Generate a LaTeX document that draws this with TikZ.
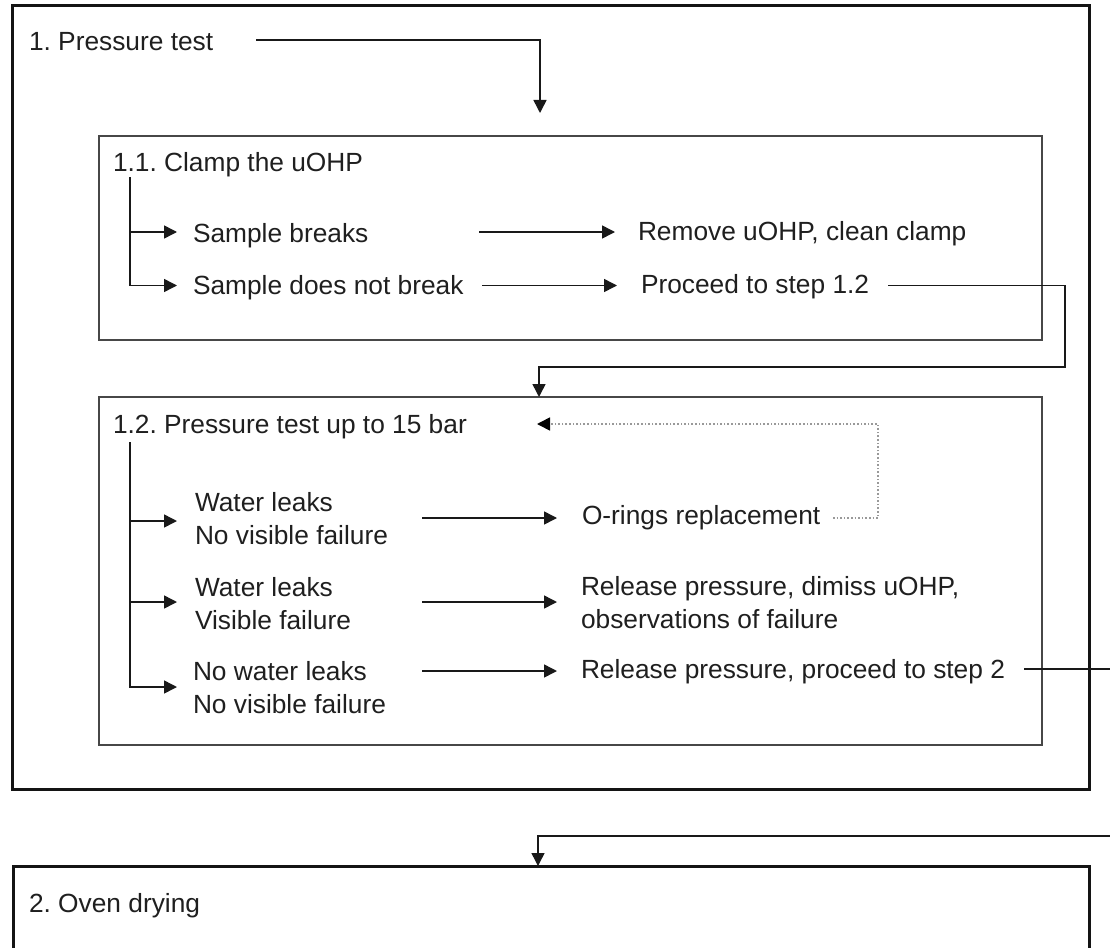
\documentclass[tikz,border=0pt]{standalone}
\usepackage{fontspec}
\setmainfont{Liberation Sans}
\frenchspacing
\usetikzlibrary{arrows.meta,calc}
\begin{document}
\begin{tikzpicture}[x=1pt,y=-1pt,
  txt/.style={anchor=base west, inner sep=0pt, outer sep=0pt, font=\fontsize{26.3}{33}\selectfont\frenchspacing, text=black!88, align=left},
  frame/.style={draw, rectangle, inner sep=0pt, outer sep=0pt, anchor=north west},
  outerbox/.style={frame, line width=3pt, draw=black!92},
  innerbox/.style={frame, line width=2.4pt, draw=black!72},
  ln/.style={line width=1.5pt, draw=black!90},
  arr/.style={ln, -{Triangle[length=13pt,width=13pt]}},
  dotarr/.style={line width=1.6pt, draw=black!40, dotted, -{Triangle[length=13pt,width=13pt,color=black]}}]
\useasboundingbox (0,0) rectangle (1110,947);
\fill[white] (0,0) rectangle (1110,947);

% frames
\node[outerbox, minimum width=1077pt, minimum height=783pt] (box1) at (12,6) {};
\node[innerbox, minimum width=943pt, minimum height=204pt] (box11) at (99,136) {};
\node[innerbox, minimum width=943pt, minimum height=348pt] (box12) at (99,397) {};
\node[outerbox, minimum width=1076pt, minimum height=150pt] (box2) at (13,866) {};

% texts
\node[txt] (t1) at (29,51) {1. Pressure test};
\node[txt] (t11) at (113,171) {1.1. Clamp the uOHP};
\node[txt] (sb) at (193,242) {Sample breaks};
\node[txt] (sdnb) at (193,294) {Sample does not break};
\node[txt] (rm) at (638,240) {Remove uOHP, clean clamp};
\node[txt] (p12) at (641,293) {Proceed to step 1.2};
\node[txt] (t12) at (113,433) {1.2. Pressure test up to 15 bar};
\node[txt] (r1) at (195,544) {Water leaks\\No visible failure};
\node[txt] (r2) at (195,629) {Water leaks\\Visible failure};
\node[txt] (r3) at (193,713) {No water leaks\\No visible failure};
\node[txt] (o1) at (582,524) {O-rings replacement};
\node[txt] (o2) at (581,628) {Release pressure, dimiss uOHP,\\observations of failure};
\node[txt] (o3) at (581,678) {Release pressure, proceed to step 2};
\node[txt] (t2) at (29,912) {2. Oven drying};

% coordinates
\coordinate (c0) at (256,40);
\coordinate (k0) at (540,113);
\coordinate (tr1) at (130,177);
\coordinate (a1) at (177,232);
\coordinate (a2) at (177,285.5);
\coordinate (m1) at (479,232);
\coordinate (m2) at (482,285.5);
\coordinate (c1) at (888,285.5);
\coordinate (tr2) at (130,442);
\coordinate (b1) at (177,521);
\coordinate (b2) at (177,602);
\coordinate (b3) at (177,687);
\coordinate (n1) at (422,518);
\coordinate (n2) at (422,602);
\coordinate (n3) at (422,671);
\coordinate (c2) at (833,518);
\coordinate (k2) at (537,424);
\coordinate (c3) at (1024,669);

% connectors
\draw[arr] (c0) -| (k0);
\draw[arr] (tr1) |- (a1);
\draw[arr] (tr1) |- (a2);
\draw[arr,shorten >=23pt] (m1) -- (m1 -| rm.west);
\draw[arr,shorten >=24pt] (m2) -- (m2 -| p12.west);
\draw[arr] (c1) -| (1065,367) -| ($(box12.north west)+(440,0)$);
\draw[arr] (tr2) |- (b1);
\draw[arr] (tr2) |- (b2);
\draw[arr] (tr2) |- (b3);
\draw[arr,shorten >=25pt] (n1) -- (n1 -| o1.west);
\draw[arr,shorten >=24pt] (n2) -- (n2 -| o2.west);
\draw[arr,shorten >=24pt] (n3) -- (n3 -| o3.west);
\draw[dotarr] (c2) -| (878,424) -- (k2);
\draw[arr] (c3) -| (1125,836) -| ($(box2.north west)+(525,0)$);
\end{tikzpicture}
\end{document}
